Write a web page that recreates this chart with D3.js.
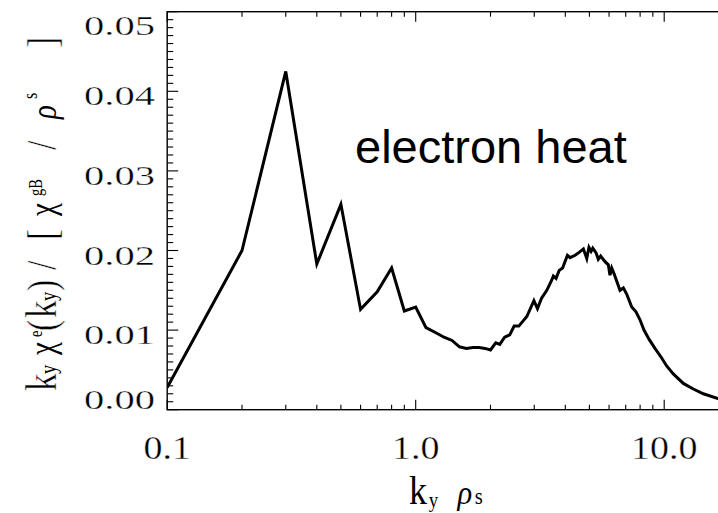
<!DOCTYPE html>
<html>
<head>
<meta charset="utf-8">
<script src="https://cdn.jsdelivr.net/npm/d3@7"></script>
<style>
  html, body { margin: 0; padding: 0; background: #fff; }
  svg { display: block; }
</style>
</head>
<body>
<svg id="chart" width="718" height="513"></svg>
<script>
// Electron heat flux spectrum versus binormal wavenumber
const ky = [0.1, 0.2, 0.3, 0.4, 0.5, 0.6, 0.7, 0.8, 0.9, 1.0,
  1.1, 1.2, 1.3, 1.4, 1.5, 1.6, 1.7, 1.8, 1.9, 2.0,
  2.1, 2.18, 2.28, 2.39, 2.49, 2.6, 2.8, 2.99, 3.09, 3.21,
  3.37, 3.53, 3.58, 3.67, 3.78, 3.9, 4.08, 4.18, 4.38, 4.56,
  4.73, 4.88, 4.98, 5.08, 5.16, 5.32, 5.43, 5.55, 5.78, 5.96,
  6.05, 6.15, 6.28, 6.64, 6.85, 7.07, 7.4, 7.7, 7.99, 8.29,
  8.71, 9.18, 9.77, 10.23, 10.88, 11.94, 13.1, 14.37, 16.46, 18.0];
const flux = [0.0028, 0.0200, 0.0425, 0.0183, 0.0258, 0.0126, 0.0148, 0.0178, 0.0124, 0.0129,
  0.0103, 0.0097, 0.0091, 0.0087, 0.0079, 0.0077, 0.0078, 0.0078, 0.0077, 0.0075,
  0.0084, 0.0082, 0.0091, 0.0094, 0.0105, 0.0105, 0.0117, 0.0137, 0.0127, 0.0140,
  0.0150, 0.0163, 0.0168, 0.0165, 0.0175, 0.0178, 0.0194, 0.0191, 0.0194, 0.0198,
  0.0202, 0.0190, 0.0204, 0.0199, 0.0203, 0.0197, 0.0189, 0.0193, 0.0186, 0.0182,
  0.0169, 0.0178, 0.0171, 0.0150, 0.0153, 0.0145, 0.0129, 0.0123, 0.0113, 0.0100,
  0.0088, 0.0077, 0.0065, 0.0055, 0.0045, 0.0033, 0.0026, 0.0020, 0.0014, 0.0011];

const xMajorTicks = [0.1, 1, 10];
const xTickLabels = ["0.1", "1.0", "10.0"];
const yMajorTicks = [0, 0.01, 0.02, 0.03, 0.04, 0.05];
const yTickLabels = ["0.00", "0.01", "0.02", "0.03", "0.04", "0.05"];
const annotation = "electron heat";

const svg = d3.select("#chart");
const frameLeft = 167.2, frameTop = 11.7, frameBottom = 409.7, decade = 248.5;
const xDomain = [0.1, 20];
const x = d3.scaleLog().domain(xDomain)
  .range([frameLeft, frameLeft + decade * Math.log10(xDomain[1] / xDomain[0])]);
const y = d3.scaleLinear().domain([0, 0.05]).range([frameBottom, frameTop]);
const frameRight = x.range()[1];

const serif = "'Liberation Serif', 'Times New Roman', serif";
const ink = "#000";

// slim the serif glyphs a little with a white outline drawn over the fill
function thin(sel, w) {
  return sel.attr("stroke", "#fff").attr("stroke-width", w).attr("stroke-linejoin", "round");
}

// Plot frame
svg.append("rect")
  .attr("x", frameLeft).attr("y", frameTop)
  .attr("width", frameRight - frameLeft).attr("height", frameBottom - frameTop)
  .attr("fill", "none").attr("stroke", ink).attr("stroke-width", 1.4);

// Minor tick values
const xMinor = [];
xMajorTicks.forEach(d => { for (let m = 2; m <= 9; m++) { const v = m * d; if (v < xDomain[1]) xMinor.push(v); } });
const yMinor = d3.range(0, 51).map(i => i / 1000).filter(v => !yMajorTicks.some(t => Math.abs(t - v) < 1e-9));

const ticks = svg.append("g").attr("stroke", ink).attr("stroke-width", 1.1);
// bottom and top axes
[[frameBottom, -1], [frameTop, 1]].forEach(([yy, dir]) => {
  ticks.append("g").selectAll("line").data(xMajorTicks).join("line")
    .attr("x1", d => x(d)).attr("x2", d => x(d))
    .attr("y1", yy).attr("y2", yy + dir * 10);
  ticks.append("g").selectAll("line").data(xMinor).join("line")
    .attr("x1", d => x(d)).attr("x2", d => x(d))
    .attr("y1", yy).attr("y2", yy + dir * 5);
});
// left and right axes
[[frameLeft, 1], [frameRight, -1]].forEach(([xx, dir]) => {
  ticks.append("g").selectAll("line").data(yMajorTicks).join("line")
    .attr("x1", xx).attr("x2", xx + dir * 11)
    .attr("y1", d => y(d)).attr("y2", d => y(d));
  ticks.append("g").selectAll("line").data(yMinor).join("line")
    .attr("x1", xx).attr("x2", xx + dir * 6)
    .attr("y1", d => y(d)).attr("y2", d => y(d));
});

// Tick labels
thin(svg.append("g").selectAll("text").data(xMajorTicks).join("text")
  .attr("transform", d => `translate(${x(d)},459) scale(1.15,1)`)
  .attr("text-anchor", "middle")
  .attr("font-family", serif).attr("font-size", 33).attr("fill", ink)
  .text((d, i) => xTickLabels[i]), 0.35);

thin(svg.append("g").selectAll("text").data(yMajorTicks).join("text")
  .attr("transform", (d, i) => {
    const off = i === 0 ? -1 : (i === yMajorTicks.length - 1 ? 23 : 14);
    return `translate(155,${y(d) + off}) scale(1.45,1)`;
  })
  .attr("text-anchor", "end")
  .attr("font-family", serif).attr("font-size", 28).attr("fill", ink)
  .text((d, i) => yTickLabels[i]), 0.35);

// Data curve
svg.append("clipPath").attr("id", "plotArea")
  .append("rect").attr("x", frameLeft).attr("y", frameTop)
  .attr("width", frameRight - frameLeft).attr("height", frameBottom - frameTop);

const line = d3.line().x((d, i) => x(ky[i])).y(d => y(d));
svg.append("path")
  .datum(flux)
  .attr("clip-path", "url(#plotArea)")
  .attr("d", line)
  .attr("fill", "none").attr("stroke", ink)
  .attr("stroke-width", 3).attr("stroke-linejoin", "miter").attr("stroke-miterlimit", 4);

// Annotation
svg.append("text")
  .attr("x", 355).attr("y", 163)
  .attr("font-family", "'Liberation Sans', Arial, sans-serif")
  .attr("font-size", 47).attr("fill", ink)
  .text(annotation);

// X-axis title: k_y rho_s
const xt = svg.append("text")
  .attr("font-family", serif).attr("fill", ink)
  .attr("transform", "translate(409,504) scale(0.9,1)");
xt.append("tspan").attr("x", 0).attr("font-size", 40).text("k");
xt.append("tspan").attr("x", 22).attr("dy", 3).attr("font-size", 21).text("y");
xt.append("tspan").attr("x", 54).attr("dy", -3).attr("font-size", 34).attr("font-style", "italic").text("ρ");
xt.append("tspan").attr("x", 73).attr("font-size", 23).text("s");

// Y-axis title: k_y chi_e(k_y) / [chi_gB / rho_s ]
const titleSqueeze = 0.8;
const yt = svg.append("text")
  .attr("font-family", serif).attr("fill", ink)
  .attr("transform", `translate(56,391) rotate(-90) scale(${titleSqueeze},1)`);
const parts = [
  { t: "k", u: 0, s: 44, dy: 0 },
  { t: "y", u: 17, s: 23, dy: 0 },
  { t: "χ", u: 36, s: 36, dy: -2 },
  { t: "e", u: 54, s: 18, dy: -14 },
  { t: "(", u: 60, s: 42, dy: 0 },
  { t: "k", u: 73, s: 44, dy: 0 },
  { t: "y", u: 90, s: 23, dy: 0 },
  { t: ")", u: 100, s: 42, dy: 0 },
  { t: "/", u: 121, s: 42, dy: 0 },
  { t: "[", u: 151, s: 42, dy: 0 },
  { t: "χ", u: 175, s: 36, dy: -2 },
  { t: "gB", u: 195, s: 18, dy: -14 },
  { t: "/", u: 241, s: 42, dy: 0 },
  { t: "ρ", u: 272, s: 36, dy: 0, it: true },
  { t: "s", u: 292, s: 20, dy: -19 },
  { t: "]", u: 343, s: 42, dy: 0 }
];
yt.selectAll("tspan").data(parts).join("tspan")
  .attr("x", d => d.u / titleSqueeze).attr("y", d => d.dy)
  .attr("font-size", d => d.s)
  .attr("font-style", d => d.it ? "italic" : null)
  .attr("stroke", d => d.s >= 40 ? "#fff" : "none")
  .attr("stroke-width", 0.5)
  .text(d => d.t);
</script>
</body>
</html>
